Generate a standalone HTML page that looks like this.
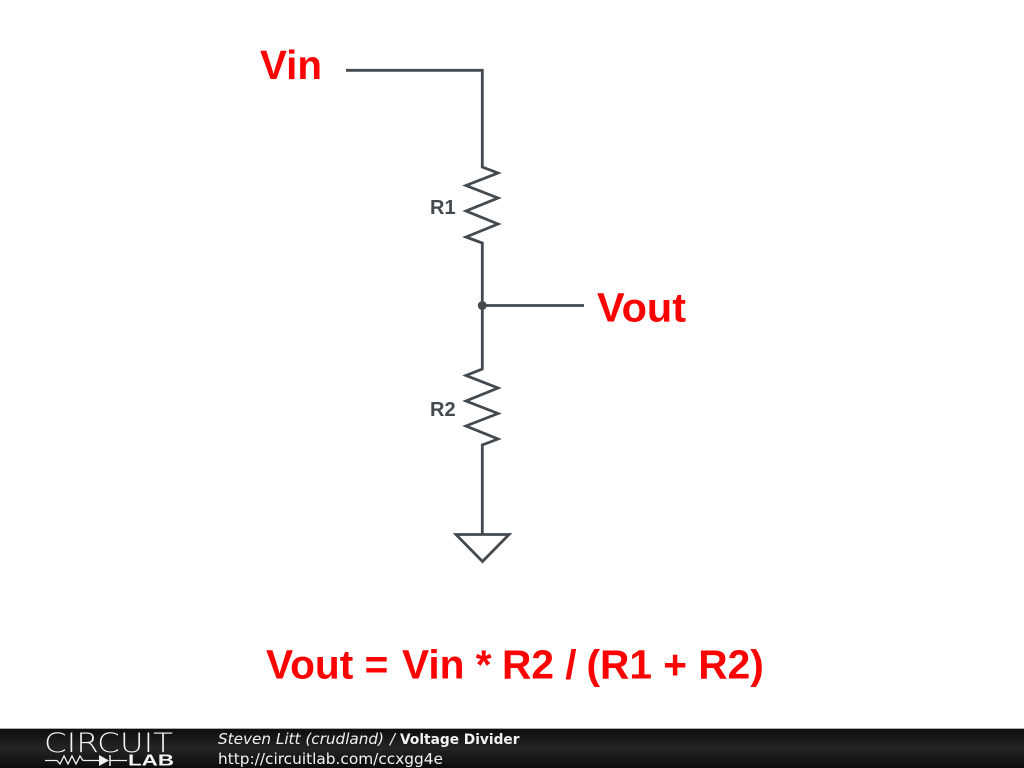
<!DOCTYPE html>
<html>
<head>
<meta charset="utf-8">
<style>
html,body{margin:0;padding:0;background:#fff;}
svg{display:block;}
</style>
</head>
<body>
<svg width="1024" height="768" viewBox="0 0 1024 768" xmlns="http://www.w3.org/2000/svg">
<defs>
<linearGradient id="bar" x1="0" y1="0" x2="0" y2="1">
<stop offset="0" stop-color="#0e0e0e"/>
<stop offset="0.5" stop-color="#242424"/>
<stop offset="1" stop-color="#0c0c0c"/>
</linearGradient>
</defs>
<rect width="1024" height="768" fill="#fff"/>
<g fill="none" stroke="#434a4f" stroke-width="2.800" stroke-linejoin="miter">
<path d="M346 70.300H482.300V167L498 173L466 185.500L498 198L466 211L498 224L466 237L482.300 243V369L466 375.500L498 388L466 401L498 413.500L466 426L498 439L482.300 445V534.500"/>
<path d="M482.300 305.500H584"/>
<path d="M456 534.500H509L482.500 561.500Z"/>
</g>
<circle cx="482.300" cy="305.500" r="4.500" fill="#434a4f"/>
<g font-family="'Liberation Sans',sans-serif" font-weight="bold">
<text x="430" y="214" font-size="20" fill="#434a4f">R1</text>
<text x="430" y="416" font-size="20" fill="#434a4f">R2</text>
<g fill="#ff0000">
<text x="260" y="79" font-size="41" textLength="62" lengthAdjust="spacingAndGlyphs">Vin</text>
<text x="597" y="321.500" font-size="41" textLength="89" lengthAdjust="spacingAndGlyphs">Vout</text>
<text y="678.500" font-size="40.650"><tspan x="266">Vout =</tspan> <tspan x="402">Vin *</tspan> <tspan x="502">R2 /</tspan> <tspan x="586.500">(R1 + R2)</tspan></text>
</g>
</g>
<rect y="728" width="1024" height="1" fill="#aaa"/>
<rect y="729" width="1024" height="39" fill="url(#bar)"/>
<text x="44" y="752" font-family="'DejaVu Sans',sans-serif" font-size="27" fill="#f4f4f4" textLength="129" lengthAdjust="spacingAndGlyphs" style="font-weight:200">CIRCUIT</text>
<g fill="none" stroke="#f0f0f0" stroke-width="1.300">
<path d="M45 760.500H57L60 764L64 756L68 764L72 756L76 764L80 756L83 760.500H99"/>
<path d="M110 760.500H127"/>
<path d="M110 755V766" stroke-width="1.500"/>
</g>
<path d="M99 755L109 760.500L99 766Z" fill="#f0f0f0"/>
<text x="128" y="765.500" font-family="'Liberation Sans',sans-serif" font-weight="bold" font-size="16" fill="#f4f4f4" textLength="46" lengthAdjust="spacingAndGlyphs">LAB</text>
<g font-family="'DejaVu Sans',sans-serif" fill="#f2f2f2">
<text x="218" y="744" font-size="15.300" font-style="italic" textLength="166" lengthAdjust="spacingAndGlyphs">Steven Litt (crudland)</text>
<text x="390" y="744" font-size="15" font-style="italic">/</text>
<text x="400" y="744" font-size="14.500" font-weight="bold" textLength="119.500" lengthAdjust="spacingAndGlyphs">Voltage Divider</text>
<text x="218" y="764" font-size="15.400" textLength="225" lengthAdjust="spacingAndGlyphs">http://circuitlab.com/ccxgg4e</text>
</g>
</svg>
</body>
</html>
